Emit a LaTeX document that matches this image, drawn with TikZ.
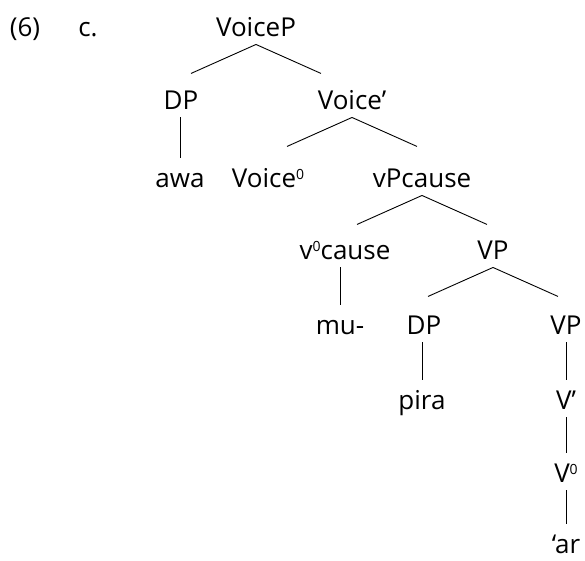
\documentclass[tikz,border=0pt]{standalone}
\usepackage{fontspec}
\setmainfont{Open Sans}
\usepackage{tikz}
\newcommand{\supzero}{\raisebox{7.5pt}{\fontsize{14}{14}\selectfont 0}}

\begin{document}
\begin{tikzpicture}[x=1pt, y=1pt, line width=0.9pt,
    cat/.style={inner sep=0, text height=19pt, text depth=8pt, anchor=base,
                font=\fontsize{26}{30}\selectfont}]

  \useasboundingbox (0, 0) rectangle (585, -560);

  % example number
  \node[cat] (num) at (25, -36) {(6)};
  \node[cat] (sub) at (88, -36) {c.};

  % the tree
  \node[cat] (voicep)   at (256, -36)  {VoiceP};
  \node[cat] (dpa)      at (181, -109) {DP};
  \node[cat] (voicebar) at (352, -109) {Voice’};
  \node[cat] (awa)      at (180, -187) {awa};
  \node[cat] (voicez)   at (268, -187) {Voice\supzero};
  \node[cat] (vpcause)  at (422, -187) {vPcause};
  \node[cat] (vcause)   at (345, -259) {v\supzero cause};
  \node[cat] (vp)       at (493, -259) {VP};
  \node[cat] (mu)       at (340, -334) {mu-};
  \node[cat] (dpb)      at (424, -334) {DP};
  \node[cat] (vpb)      at (566, -334) {VP};
  \node[cat] (pira)     at (422, -409) {pira};
  \node[cat] (vbar)     at (566, -409) {V’};
  \node[cat] (vz)       at (566, -482) {V\supzero};
  \node[cat] (ar)       at (566, -553) {‘ar};

  % branching nodes
  \foreach \p in {voicep, voicebar, vpcause, vp} {
    \coordinate (\p-l) at ([shift={(-65, -29)}]\p.south);
    \coordinate (\p-r) at ([shift={(65, -29)}]\p.south);
    \draw (\p.south) -- (\p-l);
    \draw (\p.south) -- (\p-r);
  }

  % unary lines
  \foreach \p/\c in {dpa/awa, vcause/mu, dpb/pira, vpb/vbar, vbar/vz, vz/ar} {
    \draw (\p.south -| \c) -- ([yshift=10]\c.north);
  }

\end{tikzpicture}
\end{document}
